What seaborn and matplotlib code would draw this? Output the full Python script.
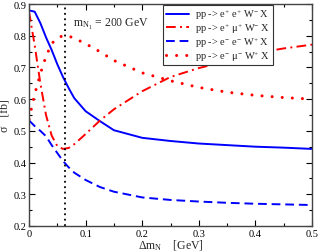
import numpy as np
import pandas as pd
import matplotlib
matplotlib.use("Agg")
import matplotlib.pyplot as plt
from matplotlib.ticker import MultipleLocator, FuncFormatter
import seaborn as sns

sns.set_theme(style="ticks")
plt.rcParams['font.family'] = ['Liberation Serif', 'DejaVu Serif']
plt.rcParams['mathtext.fontset'] = 'custom'
plt.rcParams['mathtext.rm'] = 'Liberation Serif'
plt.rcParams['mathtext.it'] = 'Liberation Serif:italic'

dm = [0, 0.01, 0.02, 0.03, 0.04, 0.05, 0.06, 0.07, 0.08, 0.1, 0.125, 0.15,
      0.2, 0.25, 0.3, 0.35, 0.4, 0.45, 0.5]
ee_pp = [0.88, 0.876, 0.84, 0.795, 0.755, 0.71, 0.67, 0.635, 0.603, 0.562, 0.531, 0.502,
         0.478, 0.468, 0.46, 0.455, 0.45, 0.447, 0.443]
emu_pp = [0.875, 0.77, 0.65, 0.55, 0.485, 0.452, 0.443, 0.446, 0.458, 0.49, 0.532, 0.568,
          0.625, 0.67, 0.698, 0.72, 0.745, 0.76, 0.772]
ee_mm = [0.533, 0.515, 0.50, 0.483, 0.455, 0.43, 0.405, 0.385, 0.368, 0.345, 0.323, 0.308,
         0.29, 0.282, 0.277, 0.273, 0.27, 0.268, 0.266]
emu_mm = [0.537, 0.615, 0.68, 0.735, 0.775, 0.793, 0.80, 0.799, 0.792, 0.775, 0.75, 0.722,
          0.683, 0.658, 0.637, 0.622, 0.612, 0.605, 0.60]
labels = [r"pp -> e$^{+}$ e$^{+}$ W$^{-}$ X",
          r"pp -> e$^{+}$ μ$^{+}$ W$^{-}$ X",
          r"pp -> e$^{-}$ e$^{-}$ W$^{+}$ X",
          r"pp -> e$^{-}$ μ$^{-}$ W$^{+}$ X"]
vline_x = 0.0636

fig = plt.figure(figsize=(3.19, 2.53), dpi=100)
ax = fig.add_axes([0.091, 0.103, 0.887, 0.877])

series = [ee_pp, emu_pp, ee_mm, emu_mm]
colors = ["#0000ff", "#ff0000", "#0000ff", "#ff0000"]
styles = [dict(lw=1.4, ls="-"),
          dict(lw=1.4, ls=(0, (5, 2.2, 1, 2.2))),
          dict(lw=1.4, ls=(0, (4.5, 2.5))),
          dict(lw=2.2, ls=(0, (0.01, 3.3)))]
for y, lab, c, st in zip(series, labels, colors, styles):
    df = pd.DataFrame({"x": dm, "y": y})
    sns.lineplot(data=df, x="x", y="y", ax=ax, color=c, label=lab, sort=False)
    l = ax.get_lines()[-1]
    l.set_linewidth(st["lw"])
    l.set_linestyle(st["ls"])
    l.set_dash_capstyle("round" if st["lw"] > 2 else "butt")

ax.axvline(vline_x, color="black", lw=1.3, ls=(0, (1, 2)))

ax.set_xlim(0, 0.5)
ax.set_ylim(0.2, 0.9)
ax.xaxis.set_major_locator(MultipleLocator(0.1))
ax.xaxis.set_minor_locator(MultipleLocator(0.05))
ax.yaxis.set_major_locator(MultipleLocator(0.1))
ax.yaxis.set_minor_locator(MultipleLocator(0.05))
ax.xaxis.set_major_formatter(FuncFormatter(lambda v, p: "0" if abs(v) < 1e-9 else f"{v:.1f}"))
ax.tick_params(which="both", direction="in", top=True, right=True, labelsize=7.5,
               colors="black", pad=2)
ax.tick_params(which="major", length=4, width=0.8)
ax.tick_params(which="minor", length=2, width=0.8)
for s in ax.spines.values():
    s.set_color("#444444")
    s.set_linewidth(1.0)

ax.set_xlabel(r"Δm$_\mathrm{N}$    [GeV]", fontsize=8.5, labelpad=0)
ax.set_ylabel("σ   [fb]", fontsize=8.5, labelpad=2)

ax.text(0.078, 0.838, r"m$_{\mathrm{N}_1}$ = 200 GeV", fontsize=8.5, ha="left", va="center")

leg = ax.legend(loc="upper left", bbox_to_anchor=(0.47, 1.0), fontsize=7.5, frameon=True,
                fancybox=False, edgecolor="#333333", framealpha=1, handlelength=2.2,
                borderpad=0.25, labelspacing=0.0, handletextpad=0.6, borderaxespad=0.1)
leg.get_frame().set_linewidth(0.8)

fig.savefig("out.png", dpi=100)
